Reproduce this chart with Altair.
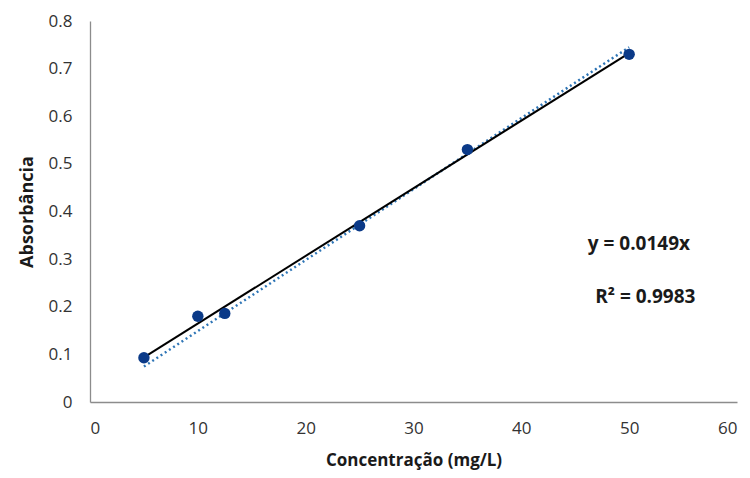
import altair as alt
import pandas as pd

# Measured data
conc = [5, 10, 12.5, 25, 35, 50]
absorb = [0.093, 0.18, 0.186, 0.37, 0.53, 0.73]

# Trendline through origin (y = 0.0149x), endpoints
trend_x = [5, 50]
trend_y = [0.0745, 0.745]

# Annotation texts
ann_text = ["y = 0.0149x", "R² = 0.9983"]
ann_x = [50.9, 51.5]
ann_y = [0.332, 0.221]

df = pd.DataFrame({"x": conc, "y": absorb})
tdf = pd.DataFrame({"x": trend_x, "y": trend_y})
adf = pd.DataFrame({"x": ann_x, "y": ann_y, "t": ann_text})

FONT = "Open Sans"

xs = alt.Scale(domain=[0, 60], nice=False)
ys = alt.Scale(domain=[0, 0.8], nice=False)

xax = alt.Axis(values=[0, 10, 20, 30, 40, 50, 60], grid=False, ticks=False,
               domainColor="#8c8c8c", domainWidth=1.3, labelFont=FONT,
               labelFontSize=17, labelColor="#333333", labelPadding=18,
               title="Concentração (mg/L)", titleFont=FONT, titleFontSize=17,
               titleFontWeight="bold", titleColor="#1a1a1a", titlePadding=16)
yax = alt.Axis(values=[0, 0.1, 0.2, 0.3, 0.4, 0.5, 0.6, 0.7, 0.8], grid=False,
               ticks=False, domainColor="#8c8c8c", domainWidth=1.3,
               labelFont=FONT, labelFontSize=17, labelColor="#333333",
               labelPadding=18, labelExpr="datum.value == 0 ? '0' : format(datum.value, '.1f')",
               title="Absorbância", titleFont=FONT, titleFontSize=18,
               titleFontWeight="bold", titleColor="#1a1a1a", titlePadding=12)

base = alt.Chart(df)

pts = base.mark_circle(size=130, color="#0B3A88", opacity=1).encode(
    x=alt.X("x:Q", scale=xs, axis=xax),
    y=alt.Y("y:Q", scale=ys, axis=yax),
)

fit = base.transform_regression("x", "y", method="linear").mark_line(
    color="black", strokeWidth=2
).encode(x=alt.X("x:Q", scale=xs), y=alt.Y("y:Q", scale=ys))

trend = alt.Chart(tdf).mark_line(
    color="#2E75B6", strokeWidth=2.5, strokeDash=[2, 3]
).encode(x=alt.X("x:Q", scale=xs), y=alt.Y("y:Q", scale=ys))

ann = alt.Chart(adf).mark_text(
    font=FONT, fontSize=19, fontWeight="bold", color="#1a1a1a", align="center"
).encode(x=alt.X("x:Q", scale=xs), y=alt.Y("y:Q", scale=ys), text="t:N")

chart = alt.layer(trend, fit, pts, ann).properties(
    width=647, height=381,
    autosize=alt.AutoSizeParams(type="none"),
    padding={"left": 82, "top": 13, "right": 5, "bottom": 72},
).configure_view(stroke=None)

chart.save("out.html", embed_options={"renderer": "svg", "actions": False})
